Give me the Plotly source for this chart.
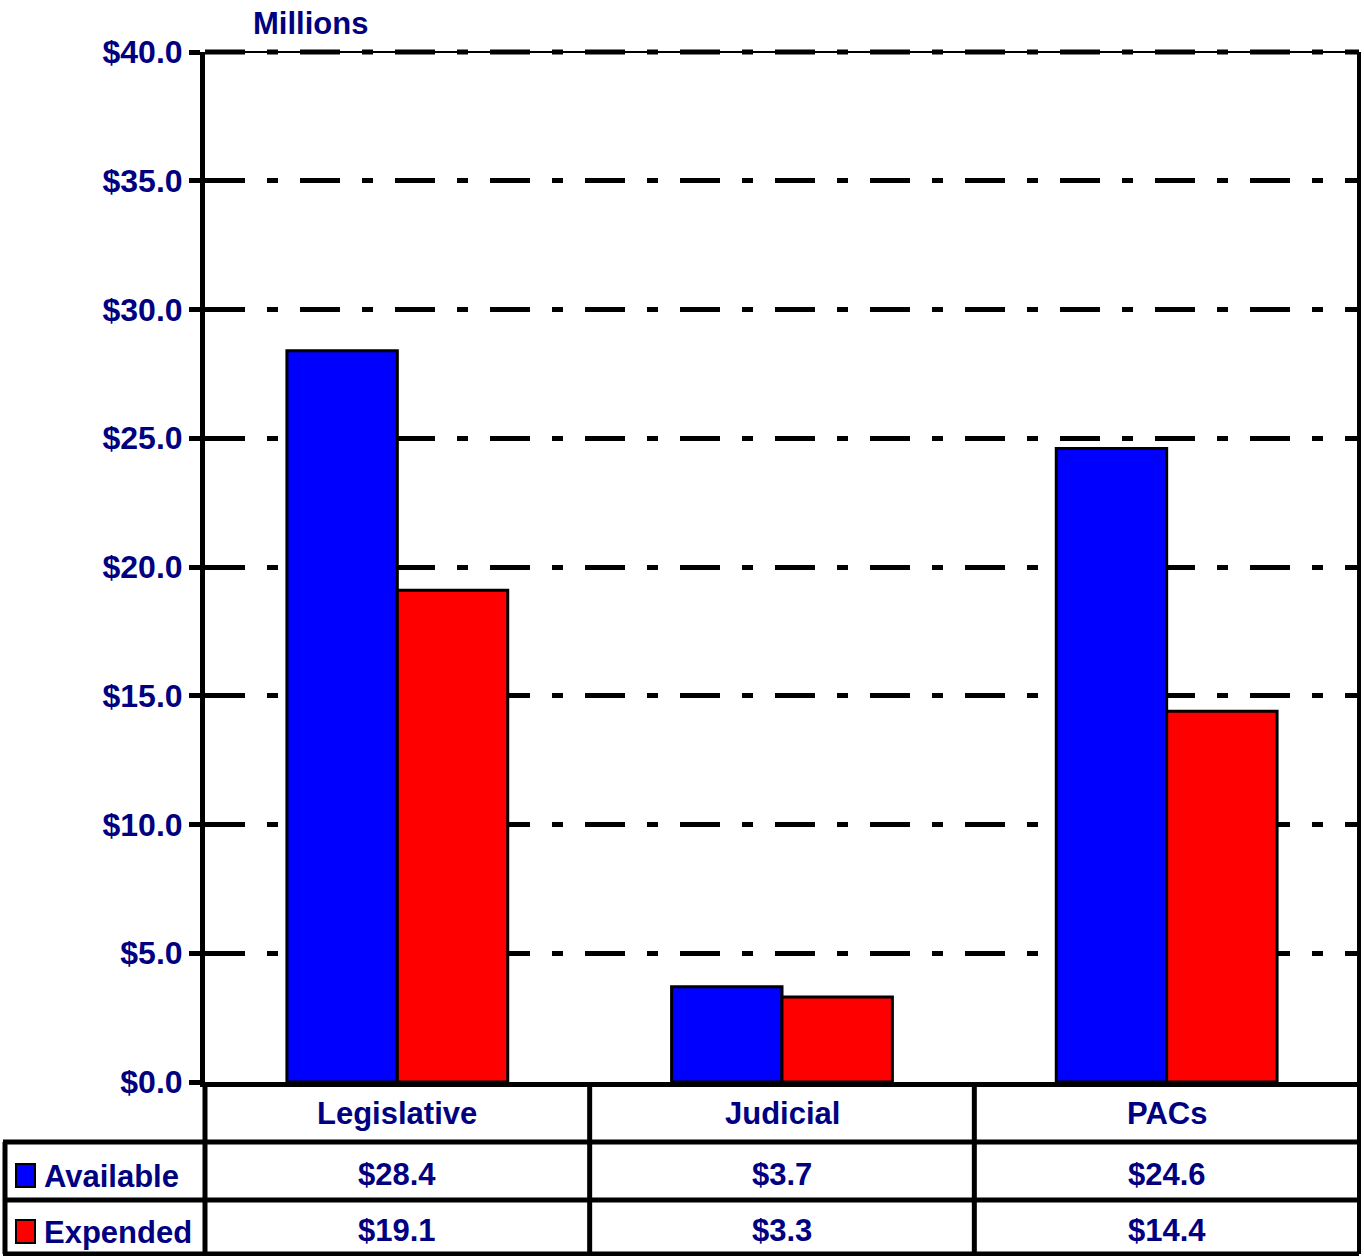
import plotly.graph_objects as go

categories = ["Legislative", "Judicial", "PACs"]
series_names = ["Available", "Expended"]
available = [28.4, 3.7, 24.6]
expended = [19.1, 3.3, 14.4]
colors = ["#0000FF", "#FF0000"]
y_ticks = [0, 5, 10, 15, 20, 25, 30, 35, 40]
y_ticktext = [f"${v:.1f}" for v in y_ticks]

W, H = 1364, 1256
L, R, T, B = 205, 5, 52, 174
pw, ph = W - L - R, H - T - B
navy = "#000080"
font_fam = "Liberation Sans, Arial, sans-serif"
FS = 31
DASH = "40px,22px,11px,22px"

def px(xp):
    return (xp - L) / pw

def py(yp):
    return 1 - (yp - T) / ph

def tfont(size=FS):
    return dict(family=font_fam, size=size, color=navy, weight="bold")

fig = go.Figure()
for name, vals, col in zip(series_names, [available, expended], colors):
    fig.add_trace(go.Bar(x=categories, y=vals, name=name,
                         marker=dict(color=col, line=dict(color="black", width=3))))

shapes = []
# top border: solid thin + dash-dot gridline
shapes.append(dict(type="line", xref="paper", yref="paper", x0=0, x1=1, y0=1, y1=1,
                   line=dict(color="black", width=2)))
shapes.append(dict(type="line", xref="paper", yref="paper", x0=0, x1=1, y0=1, y1=1,
                   line=dict(color="black", width=5, dash=DASH)))
# right border
shapes.append(dict(type="line", xref="paper", yref="paper", x0=1, x1=1, y0=1, y1=py(1254),
                   line=dict(color="black", width=4)))
# table horizontal lines
for yy in [1142, 1200, 1254]:
    shapes.append(dict(type="line", xref="paper", yref="paper", x0=px(3), x1=1, y0=py(yy), y1=py(yy),
                       line=dict(color="black", width=5)))
# table vertical lines
n = len(categories)
for i in range(n):
    xx = i / n
    shapes.append(dict(type="line", xref="paper", yref="paper", x0=xx, x1=xx, y0=0, y1=py(1254),
                       line=dict(color="black", width=5)))
shapes.append(dict(type="line", xref="paper", yref="paper", x0=px(5), x1=px(5), y0=py(1142), y1=py(1254),
                   line=dict(color="black", width=5)))

annotations = []
row_centers = [1174, 1230]
for i, c in enumerate(categories):
    annotations.append(dict(text=c, xref="paper", yref="paper", x=(i + 0.5) / n, y=py(1113),
                            xanchor="center", yanchor="middle",
                            showarrow=False, font=tfont()))
for r, (name, vals, col) in enumerate(zip(series_names, [available, expended], colors)):
    yc = row_centers[r]
    for i, v in enumerate(vals):
        annotations.append(dict(text=f"${v:.1f}", xref="paper", yref="paper", x=(i + 0.5) / n, y=py(yc),
                                xanchor="center", yanchor="middle",
                                showarrow=False, font=tfont()))
    annotations.append(dict(text=name, xref="paper", yref="paper", x=px(42), y=py(yc + 2),
                            xanchor="left", yanchor="middle",
                            showarrow=False, font=tfont()))
    shapes.append(dict(type="rect", xref="paper", yref="paper", x0=px(16), x1=px(35), y0=py(yc - 10), y1=py(yc + 13),
                       fillcolor=col, line=dict(color="black", width=2)))

annotations.append(dict(text="Millions", xref="paper", yref="paper", x=px(251), y=py(23),
                        xanchor="left", yanchor="middle",
                        showarrow=False, font=tfont()))

fig.update_layout(
    width=W, height=H,
    margin=dict(l=L, r=R, t=T, b=B, pad=0),
    paper_bgcolor="white", plot_bgcolor="white",
    barmode="group", bargap=0.426, bargroupgap=0,
    showlegend=False,
    shapes=shapes, annotations=annotations,
    xaxis=dict(range=[-0.5, 2.5], showticklabels=False, ticks="", showgrid=False,
               showline=True, linecolor="black", linewidth=5, zeroline=False),
    yaxis=dict(range=[0, 40], tickvals=y_ticks, ticktext=y_ticktext,
               ticks="outside", ticklen=11, tickwidth=5, tickcolor="black",
               ticklabelstandoff=0,
               tickfont=tfont(32),
               showgrid=True, gridcolor="black", gridwidth=5, griddash=DASH,
               showline=True, linecolor="black", linewidth=5, zeroline=False),
)
fig.write_html("out.html", config={"displayModeBar": False},
               post_script="document.body.style.margin='0';document.body.style.padding='0';")
